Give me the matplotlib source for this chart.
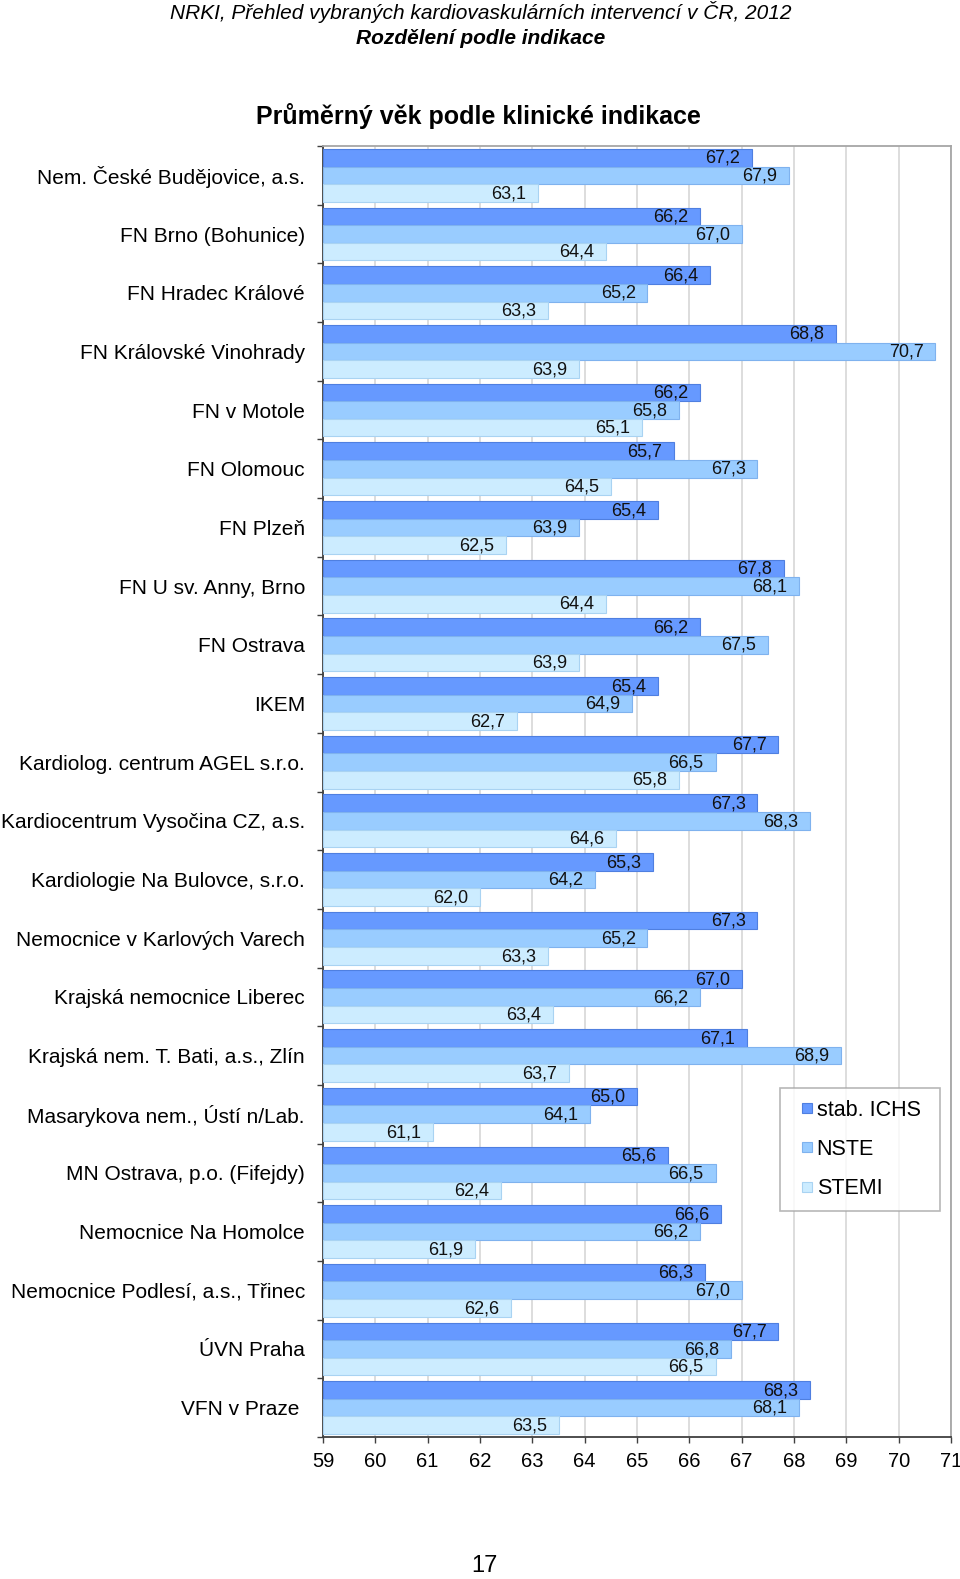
import numpy as np
import matplotlib
matplotlib.use("Agg")
import matplotlib.pyplot as plt
from matplotlib.lines import Line2D

plt.rcParams['font.family'] = ['Liberation Sans', 'DejaVu Sans']

hospitals = ["Nem. České Budějovice, a.s.", "FN Brno (Bohunice)", "FN Hradec Králové",
             "FN Královské Vinohrady", "FN v Motole", "FN Olomouc", "FN Plzeň",
             "FN U sv. Anny, Brno", "FN Ostrava", "IKEM", "Kardiolog. centrum AGEL s.r.o.",
             "Kardiocentrum Vysočina CZ, a.s.", "Kardiologie Na Bulovce, s.r.o.",
             "Nemocnice v Karlových Varech", "Krajská nemocnice Liberec",
             "Krajská nem. T. Bati, a.s., Zlín", "Masarykova nem., Ústí n/Lab.",
             "MN Ostrava, p.o. (Fifejdy)", "Nemocnice Na Homolce",
             "Nemocnice Podlesí, a.s., Třinec", "ÚVN Praha", "VFN v Praze "]
stab_ichs = [67.2, 66.2, 66.4, 68.8, 66.2, 65.7, 65.4, 67.8, 66.2, 65.4, 67.7,
             67.3, 65.3, 67.3, 67.0, 67.1, 65.0, 65.6, 66.6, 66.3, 67.7, 68.3]
nste = [67.9, 67.0, 65.2, 70.7, 65.8, 67.3, 63.9, 68.1, 67.5, 64.9, 66.5,
        68.3, 64.2, 65.2, 66.2, 68.9, 64.1, 66.5, 66.2, 67.0, 66.8, 68.1]
stemi = [63.1, 64.4, 63.3, 63.9, 65.1, 64.5, 62.5, 64.4, 63.9, 62.7, 65.8,
         64.6, 62.0, 63.3, 63.4, 63.7, 61.1, 62.4, 61.9, 62.6, 66.5, 63.5]
series_names = ["stab. ICHS", "NSTE", "STEMI"]
x_ticks = list(range(59, 72))

colors = ["#6699FF", "#99CCFF", "#CCECFF"]
edges = ["#4F7FE0", "#7FB2EE", "#A9D3F2"]

fig = plt.figure(figsize=(9.6, 15.79), dpi=100)
ax = fig.add_axes([323/960, 1 - 1437/1579, (951-323)/960, (1437-146)/1579])

base = 59
y = np.arange(len(hospitals))
h = 0.3
for k, vals in enumerate([stab_ichs, nste, stemi]):
    vals = np.array(vals)
    pos = y + (k - 1) * h
    ax.barh(pos, vals - base, left=base, height=h, color=colors[k],
            edgecolor=edges[k], linewidth=0.8, zorder=3)
    for p, v in zip(pos, vals):
        ax.annotate(f"{v:.1f}".replace(".", ","), xy=(v, p), xytext=(-8.5, -0.5),
                    textcoords="offset points", ha="right", va="center",
                    fontsize=13, color="#111111", zorder=4)

ax.set_xlim(59, 71)
ax.set_ylim(len(hospitals) - 0.5, -0.5)
ax.set_xticks(x_ticks)
ax.set_xticklabels([str(t) for t in x_ticks], fontsize=14.5)
ax.set_yticks(y)
ax.set_yticklabels(hospitals, fontsize=15)
ax.set_yticks(np.arange(len(hospitals) + 1) - 0.5, minor=True)
ax.tick_params(axis='y', which='major', length=0, pad=13)
ax.tick_params(axis='y', which='minor', length=4.5, width=1.0, direction='out', color="#404040")
ax.tick_params(axis='x', length=4.5, width=1.0, direction='out', color="#404040", pad=6)
ax.xaxis.grid(True, color="#DDDDDD", linewidth=1.4, zorder=0)
ax.set_axisbelow(True)
for s in ['left', 'bottom']:
    ax.spines[s].set_color("#404040")
    ax.spines[s].set_linewidth(1.3)
for s in ['top', 'right']:
    ax.spines[s].set_color("#A6A6A6")
    ax.spines[s].set_linewidth(1.3)

handles = [Line2D([], [], marker='s', linestyle='', markersize=6.5,
                  markerfacecolor=colors[k], markeredgecolor=edges[k], markeredgewidth=0.8)
           for k in range(3)]
leg = ax.legend(handles, series_names, loc="lower left",
                bbox_to_anchor=((780-323)/628, (1437-1211)/1291, 160/628, 122/1291),
                mode="expand", fontsize=15.5, frameon=True, fancybox=False, handlelength=1.45,
                handletextpad=-0.3, labelspacing=0.85, borderpad=0.55, borderaxespad=0)
leg.get_frame().set_edgecolor("#A6A6A6")
leg.get_frame().set_linewidth(1.2)

fig.text(481/960, 1 - 12/1579, "NRKI, Přehled vybraných kardiovaskulárních intervencí v ČR, 2012",
         ha="center", va="center", fontsize=15, style="italic")
fig.text(481/960, 1 - 39/1579, "Rozdělení podle indikace", ha="center", va="center",
         fontsize=15, style="italic", weight="bold")
fig.text(478/960, 1 - 116/1579, "Průměrný věk podle klinické indikace", ha="center",
         va="center", fontsize=18, weight="bold")
fig.text(484/960, 1 - 1566/1579, "17", ha="center", va="center", fontsize=17)

fig.savefig("out.png", dpi=100)
